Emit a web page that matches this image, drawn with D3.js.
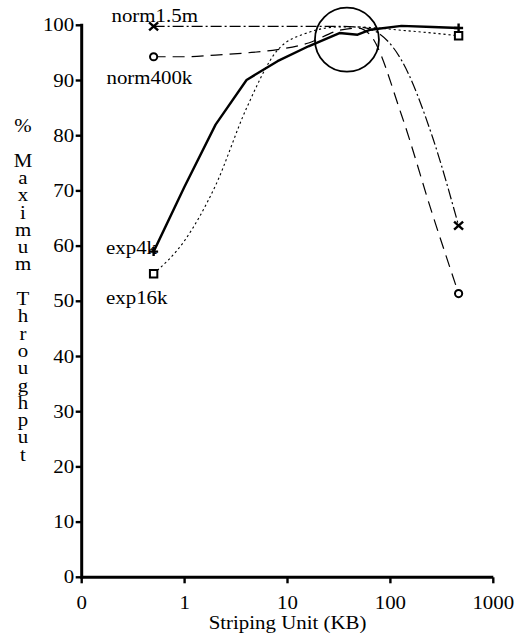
<!DOCTYPE html>
<html>
<head>
<meta charset="utf-8">
<script src="https://cdn.jsdelivr.net/npm/d3@7"></script>
<style>
  html, body { margin: 0; padding: 0; background: #fff; }
  svg { display: block; }
</style>
</head>
<body>
<svg id="chart" width="530" height="636"></svg>
<script>
// Striping unit sizes (KB) shared by every workload
const sizes = [0.5, 1, 2, 4, 8, 16, 32, 48, 64, 128, 256, 460];

// Percent of maximum throughput for each workload
const exp4k    = [59.0, 70.8, 82.0, 90.1, 93.5, 96.2, 98.6, 98.3, 99.2, 99.9, 99.7, 99.5];
const exp16k   = [55.0, 61.0, 71.0, 85.0, 95.5, 98.7, 99.7, 99.7, 99.6, 99.1, 98.6, 98.1];
const norm400k = [94.3, 94.3, 94.6, 95.0, 95.6, 96.8, 99.1, 99.5, 98.2, 83.8, 65.8, 51.4];
const norm1_5m = [99.8, 99.8, 99.8, 99.8, 99.8, 99.8, 99.8, 99.7, 99.3, 93.7, 79.8, 63.7];

const seriesNames = ["norm1.5m", "norm400k", "exp4k", "exp16k"];

// Axis ticks
const xTickValues = [0.1, 1, 10, 100, 1000];
const xTickLabels = ["0", "1", "10", "100", "1000"];
const yTickValues = [0, 10, 20, 30, 40, 50, 60, 70, 80, 90, 100];

// Highlighted region around the throughput peak (KB, %)
const peakRegion = { size: 37.8, value: 97.4 };

const xTitle = "Striping Unit (KB)";
const yTitle = "% Maximum Throughput";

const svg = d3.select("#chart");
const FONT = '"Liberation Serif", "DejaVu Serif", serif';
const FS = 18, SX = 1.16;   // font size and horizontal stretch of the serif type

const x = d3.scaleLog().domain([0.1, 1000]).range([81.7, 493.3]);
const y = d3.scaleLinear().domain([0, 100]).range([577.3, 25.3]);

const series = [
  { name: seriesNames[0], values: norm1_5m, dash: "11,3,2,3", width: 1.2, curve: d3.curveMonotoneX, marker: "x",
    label: { dx: 111.5, base: 21.5 } },
  { name: seriesNames[1], values: norm400k, dash: "12,7", width: 1.2, curve: d3.curveMonotoneX, marker: "o",
    label: { dx: 106.5, base: 83.5 } },
  { name: seriesNames[2], values: exp4k, dash: null, width: 2.4, curve: d3.curveLinear, marker: "+",
    label: { dx: 106, base: 253.5 } },
  { name: seriesNames[3], values: exp16k, dash: "2.2,2.8", width: 1.1, curve: d3.curveMonotoneX, marker: "s",
    label: { dx: 106, base: 303.5 } }
];

// stretched serif text helper
function stext(g, px, py, str, anchor) {
  g.append("g")
    .attr("transform", `translate(${px},${py}) scale(${SX},1)`)
    .append("text")
    .style("font-family", FONT)
    .style("font-size", FS + "px")
    .attr("fill", "#000")
    .attr("text-anchor", anchor || "start")
    .text(str);
}

// Lines
const plot = svg.append("g");
series.forEach(s => {
  const pts = sizes.map((k, i) => [k, s.values[i]]);
  const line = d3.line().x(d => x(d[0])).y(d => y(d[1])).curve(s.curve);
  plot.append("path")
    .attr("d", line(pts))
    .attr("fill", "none")
    .attr("stroke", "#000")
    .attr("stroke-width", s.width)
    .attr("stroke-dasharray", s.dash)
    .attr("stroke-linejoin", "round");
});

// End markers
const markerPaths = {
  x: "M-4.5,-4L4.5,4M-4.5,4L4.5,-4",
  "+": "M-4.5,0H4.5M0,-4.5V4.5",
  s: "M-3.7,-3.7H3.7V3.7H-3.7Z"
};
series.forEach(s => {
  [0, sizes.length - 1].forEach(i => {
    const cx = x(sizes[i]), cy = y(s.values[i]);
    if (s.marker === "o") {
      plot.append("circle").attr("cx", cx).attr("cy", cy).attr("r", 3.6)
        .attr("fill", "#fff").attr("stroke", "#000").attr("stroke-width", 2);
    } else {
      plot.append("path").attr("transform", `translate(${cx},${cy})`)
        .attr("d", markerPaths[s.marker])
        .attr("fill", s.marker === "s" ? "#fff" : "none")
        .attr("stroke", "#000").attr("stroke-width", s.marker === "s" ? 2 : 2.4);
    }
  });
});

// Peak region circle
plot.append("circle")
  .attr("cx", x(peakRegion.size)).attr("cy", y(peakRegion.value)).attr("r", 32)
  .attr("fill", "none").attr("stroke", "#000").attr("stroke-width", 1.8);

// Series labels
series.forEach(s => stext(svg, s.label.dx, s.label.base, s.name, "start"));

// Axes
const axes = svg.append("g");
axes.append("line")
  .attr("x1", x(0.1)).attr("x2", x(1000)).attr("y1", y(0)).attr("y2", y(0))
  .attr("stroke", "#000").attr("stroke-width", 3);
axes.append("line")
  .attr("x1", x(0.1)).attr("x2", x(0.1)).attr("y1", y(0) + 1.5).attr("y2", y(100) - 1.5)
  .attr("stroke", "#000").attr("stroke-width", 3);

xTickValues.forEach((v, i) => {
  axes.append("line")
    .attr("x1", x(v)).attr("x2", x(v)).attr("y1", y(0)).attr("y2", y(0) + 6)
    .attr("stroke", "#000").attr("stroke-width", 2.4);
  stext(axes, x(v), 609, xTickLabels[i], "middle");
});
yTickValues.forEach(v => {
  axes.append("line")
    .attr("x1", x(0.1) - 6).attr("x2", x(0.1)).attr("y1", y(v)).attr("y2", y(v))
    .attr("stroke", "#000").attr("stroke-width", 2.4);
  stext(axes, x(0.1) - 7.5, y(v) + 6, String(v), "end");
});

// Axis titles: the y title is stacked one character per line
stext(axes, (x(0.1) + x(1000)) / 2, 628.5, xTitle, "middle");
Array.from(yTitle).forEach((c, i) => {
  if (c.trim() === "") return;
  stext(axes, 23, 132 + i * 17.3, c, "middle");
});
</script>
</body>
</html>
